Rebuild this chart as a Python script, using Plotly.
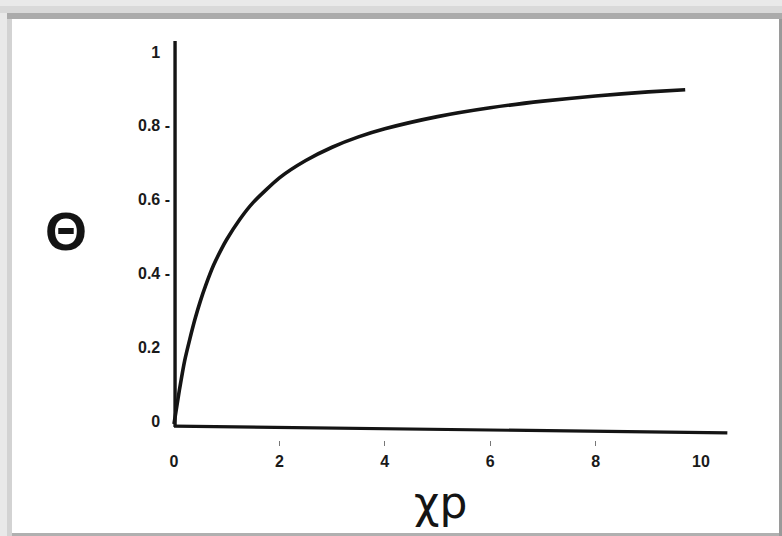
import plotly.graph_objects as go

# Data (Theta vs chi*p)
chi_p = [0, 0.1, 0.2, 0.3, 0.4, 0.5, 0.6, 0.75, 0.9, 1.0, 1.25, 1.5, 2.0, 2.5, 3.0, 3.5, 4.0, 5.0, 6.0, 7.0, 8.0, 9.0, 9.7]
theta = [0, 0.09, 0.17, 0.23, 0.285, 0.333, 0.375, 0.43, 0.474, 0.50, 0.555, 0.60, 0.667, 0.714, 0.75, 0.778, 0.80, 0.833, 0.857, 0.875, 0.889, 0.90, 0.906]

x_tickvals = [0, 2, 4, 6, 8, 10]
x_ticktext = ["0", "2", "4", "6", "8", "10"]
x_minor_ticks = [2, 4, 6, 8]
y_tickvals = [0, 0.2, 0.4, 0.6, 0.8, 1.0]
hid = "<span style='color:rgba(0,0,0,0)'> -</span>"
y_ticktext = ["0" + hid, "0.2" + hid, "0.4 -", "0.6 -", "0.8 -", "1" + hid]

INK = "#141414"
FONT = "Liberation Sans, Arial, sans-serif"

fig = go.Figure()
fig.add_trace(go.Scatter(
    x=chi_p, y=theta, mode="lines",
    line=dict(color=INK, width=3.6, shape="spline", smoothing=0.6),
    hoverinfo="skip", showlegend=False,
))

L, R, T, B = 171, 42, 30, 96
W, H = 782, 536
pw, ph = W - L - R, H - T - B

def px(p):  # pixel x -> paper
    return (p - L) / pw

def py(p):  # pixel y -> paper
    return (H - B - p) / ph

shapes = []
# scanned frame
shapes.append(dict(type="rect", xref="paper", yref="paper", x0=px(0), x1=px(782), y0=py(6), y1=py(13),
                   fillcolor="#d9d9d9", line=dict(width=0), layer="below"))
shapes.append(dict(type="rect", xref="paper", yref="paper", x0=px(7), x1=px(782), y0=py(13), y1=py(19),
                   fillcolor="#ababab", line=dict(width=0), layer="below"))
shapes.append(dict(type="rect", xref="paper", yref="paper", x0=px(7), x1=px(12), y0=py(536), y1=py(19),
                   fillcolor="#d3d3d3", line=dict(width=0), layer="below"))
shapes.append(dict(type="rect", xref="paper", yref="paper", x0=px(12), x1=px(779), y0=py(533), y1=py(19),
                   fillcolor="#ffffff", line=dict(width=0), layer="below"))
shapes.append(dict(type="rect", xref="paper", yref="paper", x0=px(779), x1=px(782), y0=py(536), y1=py(19),
                   fillcolor="#9a9a9a", line=dict(width=0), layer="below"))
shapes.append(dict(type="rect", xref="paper", yref="paper", x0=px(12), x1=px(779), y0=py(536), y1=py(533),
                   fillcolor="#b0b0b0", line=dict(width=0), layer="below"))
# axis lines (hand-drawn look)
shapes.append(dict(type="line", xref="x", yref="y", x0=0.02, x1=0.02, y0=-0.008, y1=1.038,
                   line=dict(color=INK, width=3.4)))
shapes.append(dict(type="line", xref="x", yref="y", x0=0.0, x1=10.5, y0=-0.006, y1=-0.024,
                   line=dict(color=INK, width=3.2)))

fig.update_layout(
    width=W, height=H,
    margin=dict(l=L, r=R, t=T, b=B),
    paper_bgcolor="#e9e9e9",
    plot_bgcolor="#ffffff",
    showlegend=False,
    shapes=shapes,
    font=dict(family=FONT, color=INK),
    xaxis=dict(
        range=[-3 / 52.7, (740 - 174) / 52.7],
        showgrid=False, zeroline=False, showline=False,
        tickvals=x_tickvals, ticktext=x_ticktext, ticks="",
        tickfont=dict(size=16, family=FONT, color="#1a1a1a", weight="bold"),
        ticklabelstandoff=10,
        minor=dict(tickvals=x_minor_ticks, ticks="outside", ticklen=5, tickwidth=1, tickcolor="#777"),
    ),
    yaxis=dict(
        range=[(424 - 440) / 369, (424 - 30) / 369],
        showgrid=False, zeroline=False, showline=False,
        tickvals=y_tickvals, ticktext=y_ticktext, ticks="",
        tickfont=dict(size=16, family=FONT, color="#1a1a1a", weight="bold"),
        ticklabelstandoff=0,
        ticklabelshift=-3,
    ),
    annotations=[
        dict(text="Θ", xref="paper", yref="paper", x=px(66), y=py(231), showarrow=False,
             font=dict(size=54, family=FONT, color=INK, weight="bold"), xanchor="center", yanchor="middle"),
        dict(text="χp", xref="paper", yref="paper", x=px(440), y=py(503), showarrow=False,
             font=dict(size=44, family="DejaVu Sans, sans-serif", color=INK), xanchor="center", yanchor="middle"),
    ],
)

fig.write_html("out.html")
